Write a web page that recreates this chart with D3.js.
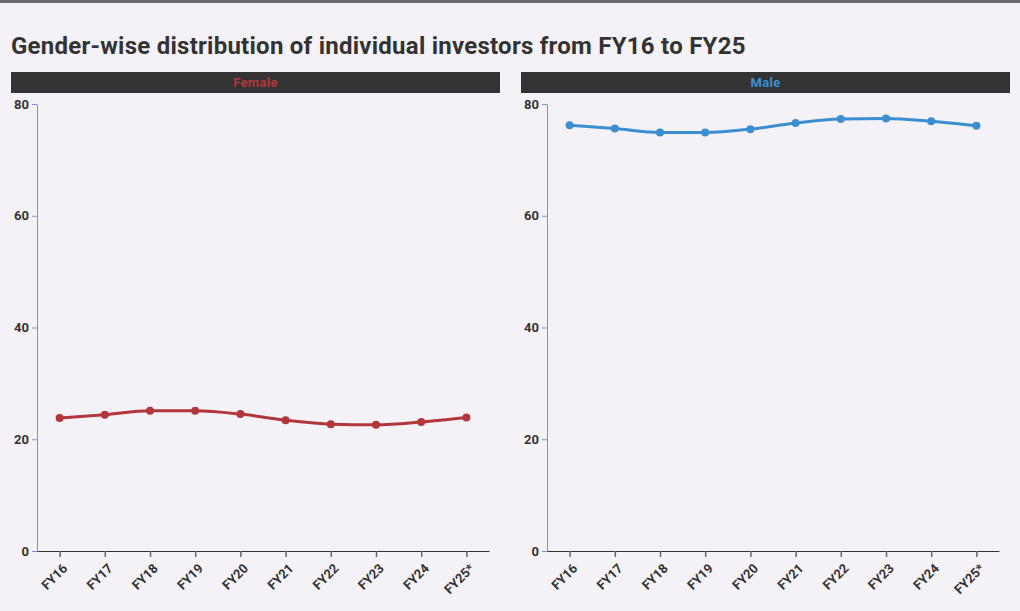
<!DOCTYPE html>
<html>
<head>
<meta charset="utf-8">
<script src="https://cdn.jsdelivr.net/npm/d3@7"></script>
<style>
  body { margin: 0; background: #f4f2f7; }
  .topbar { height: 3px; background: #6b6b6b; }
  svg text { font-family: Roboto, sans-serif; }
</style>
</head>
<body>
<div class="topbar"></div>
<svg id="chart" width="1020" height="608"></svg>
<script>
// data
const years = ["FY16", "FY17", "FY18", "FY19", "FY20", "FY21", "FY22", "FY23", "FY24", "FY25*"];
const female = [23.8, 24.4, 25.1, 25.1, 24.5, 23.4, 22.7, 22.6, 23.1, 23.9];
const male = [76.2, 75.6, 74.9, 74.9, 75.5, 76.6, 77.3, 77.4, 76.9, 76.1];
const yTicks = [0, 20, 40, 60, 80];

const panels = [
    { name: "Female", values: female, color: "#b3363b", left: 11 },
    { name: "Male", values: male, color: "#3b8fd0", left: 521 }
];

const svg = d3.select("#chart");

svg.append("text")
    .attr("x", 11)
    .attr("y", 51)
    .attr("font-size", 24)
    .attr("font-weight", 700)
    .attr("letter-spacing", 0.25)
    .attr("fill", "#333")
    .text("Gender-wise distribution of individual investors from FY16 to FY25");

panels.forEach(p => {
    const g = svg.append("g").attr("transform", `translate(${p.left}, 0)`);

    // strip header
    g.append("rect")
        .attr("x", 0).attr("y", 69)
        .attr("width", 489).attr("height", 21)
        .attr("fill", "#333333");
    g.append("text")
        .attr("x", 244.5).attr("y", 84)
        .attr("text-anchor", "middle")
        .attr("font-size", 13)
        .attr("font-weight", 700)
        .attr("letter-spacing", 0.3)
        .attr("fill", p.color)
        .text(p.name);

    const x = d3.scalePoint().domain(years).range([26, 478]).padding(0.5);
    const y = d3.scaleLinear().domain([0, 80]).range([548, 101]);

    // y axis
    const ya = g.append("g")
        .attr("transform", "translate(26, 0)")
        .call(d3.axisLeft(y).tickValues(yTicks).tickSize(5).tickSizeOuter(0));
    ya.select(".domain").attr("stroke", "#8090d8");
    ya.selectAll(".tick line").attr("stroke", "#8090d8");
    ya.selectAll(".tick text")
        .attr("font-size", 13).attr("font-weight", 700).attr("fill", "#333");

    // x axis
    const xa = g.append("g")
        .attr("transform", "translate(0, 548)")
        .call(d3.axisBottom(x).tickSize(6).tickSizeOuter(0));
    xa.select(".domain").attr("stroke", "#333");
    xa.selectAll(".tick line").attr("stroke", "#666").attr("stroke-width", 1.5);
    xa.selectAll(".tick text")
        .attr("font-size", 13).attr("font-weight", 700).attr("fill", "#333")
        .attr("text-anchor", "end")
        .attr("x", 0).attr("y", 0).attr("dy", "0.35em")
        .attr("transform", "translate(5, 15) rotate(-45)");

    const line = d3.line()
        .x((d, i) => x(years[i]))
        .y(d => y(d))
        .curve(d3.curveMonotoneX);

    g.append("path")
        .datum(p.values)
        .attr("d", line)
        .attr("fill", "none")
        .attr("stroke", p.color)
        .attr("stroke-width", 3);

    g.selectAll(".dot")
        .data(p.values)
        .join("circle")
        .attr("cx", (d, i) => x(years[i]))
        .attr("cy", d => y(d))
        .attr("r", 4)
        .attr("fill", p.color);
});
</script>
</body>
</html>
